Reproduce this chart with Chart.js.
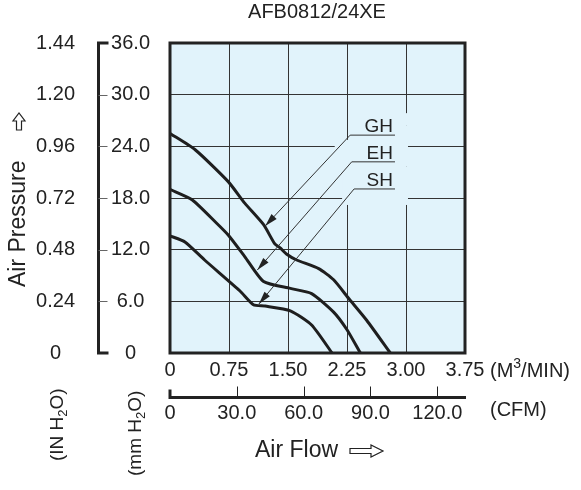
<!DOCTYPE html>
<html>
<head>
<meta charset="utf-8">
<script src="https://cdn.jsdelivr.net/npm/chart.js@4.4.0/dist/chart.umd.min.js"></script>
<style>
  html, body { margin: 0; padding: 0; background: #fff; }
</style>
</head>
<body>
<canvas id="grafico" width="581" height="490"></canvas>
<script>
// curves: flow in M3/MIN, pressure in mm H2O
const flowGH = [0, 0.32, 0.74, 0.95, 1.19, 1.33, 1.40, 1.48, 1.61, 1.89, 2.08, 2.27, 2.50, 2.80];
const presGH = [25.5, 23.6, 19.9, 17.4, 14.9, 12.7, 12.2, 11.5, 10.8, 9.8, 8.5, 6.35, 3.8, 0];
const flowEH = [0, 0.28, 0.59, 0.74, 0.95, 1.19, 1.53, 1.80, 2.08, 2.25, 2.42];
const presEH = [19.0, 17.8, 15.1, 13.7, 11.2, 8.3, 7.5, 6.9, 4.75, 2.7, 0];
const flowSH = [0, 0.19, 0.44, 0.89, 1.06, 1.21, 1.53, 1.80, 2.06];
const presSH = [13.6, 12.9, 10.8, 7.2, 5.6, 5.45, 4.9, 3.25, 0];

const flowTicks = [0, 0.75, 1.5, 2.25, 3, 3.75];
const flowLabels = ['0', '0.75', '1.50', '2.25', '3.00', '3.75'];
const cfmTicks = [0, 30, 60, 90, 120];
const cfmLabels = ['0', '30.0', '60.0', '90.0', '120.0'];
const mmTicks = [0, 6, 12, 18, 24, 30, 36];
const mmLabels = ['0', '6.0', '12.0', '18.0', '24.0', '30.0', '36.0'];
const inTicks = [0, 0.24, 0.48, 0.72, 0.96, 1.2, 1.44];
const inLabels = ['0', '0.24', '0.48', '0.72', '0.96', '1.20', '1.44'];

// curve name, where the arrow hits the curve, where the leader bends (data units)
const curveNames = ['GH', 'EH', 'SH'];
const arrowTips = [[1.21, 14.75], [1.11, 9.64], [1.13, 5.69]];
const leaderBends = [[2.29, 25.3], [2.31, 22.2], [2.34, 19.05]];
const leaderEnd = 2.86;

const CFM_PER_M3MIN = 35.3147;
const FONT = '"Liberation Sans", Arial, sans-serif';
const INK = '#222';
const PLOT_BG = '#e1f3fb';

function pontos(xs, ys) {
  return xs.map((x, i) => ({ x: x, y: ys[i] }));
}

function fixedTicks(values) {
  return scale => { scale.ticks = values.map(v => ({ value: v })); };
}

function outlineArrow(ctx, x0, x1, cy, shaftHalf, headHalf, headLen) {
  const xb = x1 - headLen;
  ctx.beginPath();
  ctx.moveTo(x0, cy - shaftHalf);
  ctx.lineTo(xb, cy - shaftHalf);
  ctx.lineTo(xb, cy - headHalf);
  ctx.lineTo(x1, cy);
  ctx.lineTo(xb, cy + headHalf);
  ctx.lineTo(xb, cy + shaftHalf);
  ctx.lineTo(x0, cy + shaftHalf);
  ctx.closePath();
  ctx.fillStyle = '#fff';
  ctx.fill();
  ctx.lineWidth = 1.2;
  ctx.strokeStyle = INK;
  ctx.stroke();
}

// draws pieces of text one after another, sub/superscripts included
function textRuns(ctx, runs, x, y) {
  ctx.textAlign = 'left';
  ctx.textBaseline = 'middle';
  ctx.fillStyle = INK;
  runs.forEach(r => {
    ctx.font = r[1] + 'px ' + FONT;
    ctx.fillText(r[0], x, y + (r[2] || 0));
    x += ctx.measureText(r[0]).width;
  });
}

const decoracao = {
  id: 'decoracao',
  beforeDraw(chart) {
    const { ctx, chartArea: a } = chart;
    ctx.save();
    ctx.fillStyle = '#fff';
    ctx.fillRect(0, 0, chart.width, chart.height);
    ctx.fillStyle = PLOT_BG;
    ctx.fillRect(a.left, a.top, a.right - a.left, a.bottom - a.top);
    ctx.restore();
  },
  beforeDatasetsDraw(chart) {
    // the curve labels sit on patches that hide the grid
    const { ctx } = chart;
    const sx = chart.scales.x, sy = chart.scales.y;
    const right = sx.getPixelForValue(leaderEnd) + 13;
    const lefts = [1, -17, -12];
    const above = [10, 22, 22];
    const below = [5, 5, 16];
    ctx.save();
    ctx.fillStyle = PLOT_BG;
    leaderBends.forEach((b, i) => {
      const bx = sx.getPixelForValue(b[0]) + lefts[i];
      const by = sy.getPixelForValue(b[1]);
      ctx.fillRect(bx, by - above[i], right - bx, above[i] + below[i]);
    });
    // the GH patch runs higher to the right of the 2.25 line
    const gy = sy.getPixelForValue(leaderBends[0][1]);
    const gx = sx.getPixelForValue(2.25) + 2;
    ctx.fillRect(gx, gy - 22, right - gx, 12);
    ctx.restore();
  },
  afterDatasetsDraw(chart) {
    const { ctx } = chart;
    const sx = chart.scales.x, sy = chart.scales.y;
    const endX = sx.getPixelForValue(leaderEnd);
    ctx.save();
    ctx.strokeStyle = '#333';
    ctx.fillStyle = INK;
    ctx.lineWidth = 1;
    curveNames.forEach((name, i) => {
      const bx = sx.getPixelForValue(leaderBends[i][0]);
      const by = sy.getPixelForValue(leaderBends[i][1]);
      const tx = sx.getPixelForValue(arrowTips[i][0]);
      const ty = sy.getPixelForValue(arrowTips[i][1]);
      ctx.beginPath();
      ctx.moveTo(endX, by);
      ctx.lineTo(bx, by);
      ctx.lineTo(tx, ty);
      ctx.stroke();
      const ang = Math.atan2(ty - by, tx - bx);
      const len = 13, half = 3.5;
      ctx.beginPath();
      ctx.moveTo(tx, ty);
      ctx.lineTo(tx - len * Math.cos(ang) + half * Math.sin(ang), ty - len * Math.sin(ang) - half * Math.cos(ang));
      ctx.lineTo(tx - len * Math.cos(ang) - half * Math.sin(ang), ty - len * Math.sin(ang) + half * Math.cos(ang));
      ctx.closePath();
      ctx.fill();
      ctx.font = '19px ' + FONT;
      ctx.textAlign = 'right';
      ctx.textBaseline = 'alphabetic';
      ctx.fillText(name, endX - 2, by - 3);
    });
    ctx.restore();
  },
  afterDraw(chart) {
    const { ctx, chartArea: a } = chart;
    const sy = chart.scales.y, cfm = chart.scales.cfm;
    ctx.save();

    // plot frame
    ctx.strokeStyle = INK;
    ctx.lineWidth = 3;
    ctx.strokeRect(a.left, a.top, a.right - a.left, a.bottom - a.top);

    // mm H2O axis, the bracket standing apart on the left
    const ax = sy.left + 1.5;
    const yTop = sy.getPixelForValue(mmTicks[mmTicks.length - 1]);
    const yBot = sy.getPixelForValue(0);
    ctx.beginPath();
    ctx.moveTo(ax + 10, yTop);
    ctx.lineTo(ax, yTop);
    ctx.lineTo(ax, yBot);
    ctx.lineTo(ax + 10, yBot);
    ctx.stroke();
    ctx.lineWidth = 1;
    ctx.strokeStyle = '#666';
    mmTicks.slice(1, -1).forEach(v => {
      const py = Math.round(sy.getPixelForValue(v)) + 0.5;
      ctx.beginPath();
      ctx.moveTo(ax, py);
      ctx.lineTo(ax + 9, py);
      ctx.stroke();
    });

    // CFM axis line below the M3/MIN labels
    const cy = cfm.top + 1.5;
    ctx.strokeStyle = INK;
    ctx.lineWidth = 3;
    ctx.beginPath();
    ctx.moveTo(a.left, cy - 8);
    ctx.lineTo(a.left, cy);
    ctx.lineTo(a.right + 1, cy);
    ctx.stroke();
    ctx.lineWidth = 1;
    cfmTicks.slice(1).forEach(v => {
      const px = Math.round(cfm.getPixelForValue(v)) + 0.5;
      ctx.beginPath();
      ctx.moveTo(px, cy);
      ctx.lineTo(px, cy - 11);
      ctx.stroke();
    });

    // texts
    ctx.fillStyle = INK;
    ctx.font = '20px ' + FONT;
    ctx.textAlign = 'center';
    ctx.textBaseline = 'middle';
    ctx.fillText('AFB0812/24XE', 317, 12);

    textRuns(ctx, [['(M', 20], ['3', 14, -7], ['/MIN)', 20]], 490, 371);
    textRuns(ctx, [['(CFM)', 20]], 490, 410);
    textRuns(ctx, [['Air Flow', 23]], 255, 451);
    outlineArrow(ctx, 350, 383, 451, 2.5, 6, 12);

    ctx.save();
    ctx.translate(19, 287);
    ctx.rotate(-Math.PI / 2);
    textRuns(ctx, [['Air Pressure', 23]], 0, 0);
    outlineArrow(ctx, 157, 174, 0, 2.5, 6, 8);
    ctx.restore();

    ctx.save();
    ctx.translate(58, 461);
    ctx.rotate(-Math.PI / 2);
    textRuns(ctx, [['(IN H', 19], ['2', 13, 5], ['O)', 19]], 0, 0);
    ctx.restore();

    ctx.save();
    ctx.translate(136, 476);
    ctx.rotate(-Math.PI / 2);
    textRuns(ctx, [['(mm H', 19], ['2', 13, 5], ['O)', 19]], 0, 0);
    ctx.restore();

    ctx.restore();
  }
};

const tickFont = { family: FONT, size: 20 };

const serie = (data) => ({
  data: data,
  showLine: true,
  borderColor: '#1e1e1e',
  borderWidth: 3,
  pointRadius: 0,
  tension: 0.2,
  fill: false,
  xAxisID: 'x',
  yAxisID: 'y'
});

const chart = new Chart(document.getElementById('grafico').getContext('2d'), {
  type: 'scatter',
  data: {
    datasets: [
      serie(pontos(flowGH, presGH)),
      serie(pontos(flowEH, presEH)),
      serie(pontos(flowSH, presSH))
    ]
  },
  options: {
    responsive: false,
    animation: false,
    layout: { padding: { top: 43, right: 116, bottom: 0, left: 0 } },
    scales: {
      x: {
        type: 'linear',
        position: 'bottom',
        min: 0,
        max: 3.75,
        afterBuildTicks: fixedTicks(flowTicks),
        afterFit: s => { s.height = 43; },
        ticks: { callback: (v, i) => flowLabels[i], font: tickFont, color: INK, padding: 5, maxRotation: 0, autoSkip: false },
        grid: { color: '#333', lineWidth: 1, drawTicks: false },
        border: { display: false }
      },
      cfm: {
        type: 'linear',
        position: 'bottom',
        weight: 1,
        min: 0,
        max: 3.75 * CFM_PER_M3MIN,
        afterBuildTicks: fixedTicks(cfmTicks),
        afterFit: s => { s.height = 94; },
        ticks: { callback: (v, i) => cfmLabels[i], font: tickFont, color: INK, padding: -3, maxRotation: 0, autoSkip: false },
        grid: { display: false },
        border: { display: false }
      },
      y: {
        type: 'linear',
        position: 'left',
        min: 0,
        max: 36,
        afterBuildTicks: fixedTicks(mmTicks),
        afterFit: s => { s.width = 73; },
        ticks: { callback: (v, i) => mmLabels[i], font: tickFont, color: INK, padding: 20, crossAlign: 'center', autoSkip: false },
        grid: { color: '#333', lineWidth: 1, drawTicks: false },
        border: { display: false }
      },
      yIn: {
        type: 'linear',
        position: 'left',
        weight: 1,
        min: 0,
        max: 1.44,
        afterBuildTicks: fixedTicks(inTicks),
        afterFit: s => { s.width = 97; },
        ticks: { callback: (v, i) => inLabels[i], font: tickFont, color: INK, padding: 14, crossAlign: 'center', autoSkip: false },
        grid: { display: false },
        border: { display: false }
      }
    },
    plugins: {
      legend: { display: false },
      tooltip: { enabled: false }
    }
  },
  plugins: [decoracao]
});
</script>
</body>
</html>
